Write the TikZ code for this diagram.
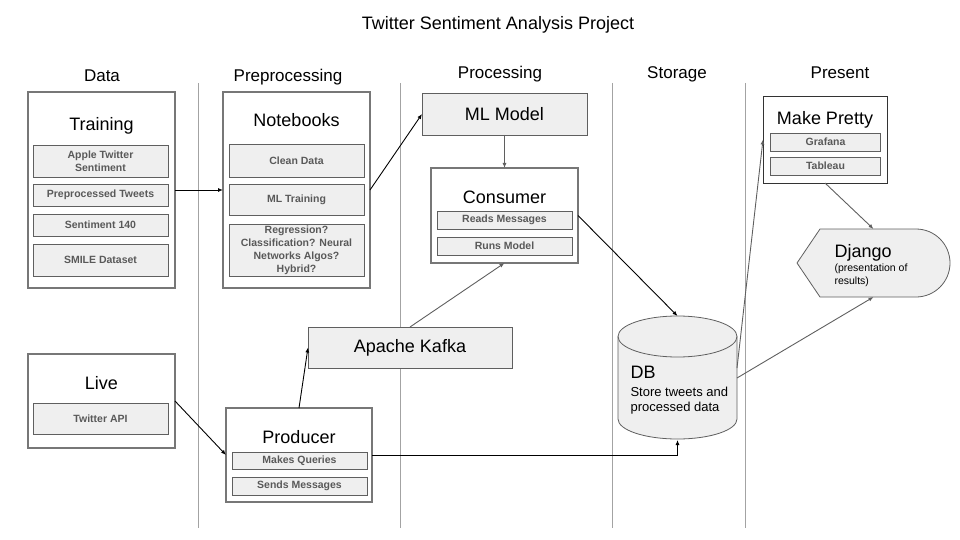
\documentclass[tikz,border=0pt]{standalone}
\usepackage{fontspec}
\setmainfont{Liberation Sans}
\usetikzlibrary{positioning,arrows.meta}

\definecolor{boxgray}{HTML}{EFEFEF}
\definecolor{linegray}{HTML}{5F5F5F}
\definecolor{framegray}{HTML}{777777}
\definecolor{itemtext}{HTML}{595959}
\definecolor{sepgray}{HTML}{A3A3A3}
\newcommand{\fsz}[2]{\fontsize{#1}{#2}\selectfont}

\tikzset{
  outerbox/.style={draw=framegray, line width=2pt, fill=white, minimum width=147pt, inner sep=0pt, outer sep=0pt},
  item/.style={draw=linegray, line width=0.8pt, fill=boxgray, text=itemtext, font=\bfseries\fsz{10.5}{13}, align=center, minimum width=135pt, inner sep=0pt, outer sep=0pt},
  block/.style={draw=linegray, line width=0.8pt, fill=boxgray, font=\fsz{18}{22}, inner sep=0pt, outer sep=0pt},
  heading/.style={font=\fsz{17}{20}, anchor=base},
  boxtitle/.style={font=\fsz{18}{22}, anchor=base},
  flow/.style={-{Latex[length=5pt,width=4pt]}, line width=0.9pt},
  softflow/.style={flow, draw=linegray}
}

\begin{document}
\begin{tikzpicture}[x=1pt, y=-1pt]
    \useasboundingbox (0,0) rectangle (960,540);
    \node[font=\fsz{18}{22}, anchor=base] (title) at (498,30) {Twitter Sentiment Analysis Project};

    \node[heading] (hdata) at (102,82) {Data};
    \node[heading] (hprep) at (288,82) {Preprocessing};
    \node[heading] (hproc) at (500,79) {Processing};
    \node[heading] (hstor) at (677,79) {Storage};
    \node[heading] (hpres) at (840,79) {Present};

    \draw[sepgray, line width=0.8pt] (198,83) -- (198,528);
    \draw[sepgray, line width=0.8pt] (400,83) -- (400,528);
    \draw[sepgray, line width=0.8pt] (612,83) -- (612,528);
    \draw[sepgray, line width=0.8pt] (745,83) -- (745,528);

    \node[outerbox, minimum height=196pt] (training) at (101.5,190) {};
    \node[boxtitle] (trtitle) at (101.5,131) {Training};
    \node[item, minimum height=32pt] (apple) at (100.5,161) {Apple Twitter\\Sentiment};
    \node[item, minimum height=22pt, below=7pt of apple] (prep) {Preprocessed Tweets};
    \node[item, minimum height=22pt, below=8pt of prep] (s140) {Sentiment 140};
    \node[item, minimum height=32pt, below=8pt of s140] (smile) {SMILE Dataset};

    \node[outerbox, minimum height=196pt] (notebooks) at (296.5,190) {};
    \node[boxtitle] (nbtitle) at (296.5,127) {Notebooks};
    \node[item, minimum height=33pt] (clean) at (296.5,160.5) {Clean Data};
    \node[item, minimum height=31pt, below=7pt of clean] (mltrain) {ML Training};
    \node[item, minimum height=52pt, below=9pt of mltrain] (algos) {Regression?\\Classification? Neural\\Networks Algos?\\Hybrid?};

    \node[block, minimum width=165pt, minimum height=42pt] (mlmodel) at (504.5,114) {ML Model};
    \node[outerbox, minimum height=95pt] (consumer) at (504.5,215.5) {};
    \node[boxtitle] (cotitle) at (504.5,203) {Consumer};
    \node[item, minimum height=18pt] (reads) at (504.5,220) {Reads Messages};
    \node[item, minimum height=18pt, below=8pt of reads] (runs) {Runs Model};
    \node[block, minimum width=204pt, minimum height=41pt] (kafka) at (410,347.5) {Apache Kafka};

    \node[outerbox, minimum height=94pt] (live) at (101.5,401) {};
    \node[boxtitle] (lvtitle) at (101.5,389) {Live};
    \node[item, minimum height=31pt] (twapi) at (100.5,418.5) {Twitter API};

    \node[outerbox, minimum width=146pt, minimum height=94pt] (producer) at (299,455) {};
    \node[boxtitle] (prtitle) at (299,443) {Producer};
    \node[item, minimum height=17pt] (queries) at (299.5,460.5) {Makes Queries};
    \node[item, minimum height=18pt, below=8pt of queries] (sends) {Sends Messages};

    \path[draw=linegray, fill=boxgray, line width=0.8pt] (618,336.5) -- (618,419)
        arc[start angle=180, end angle=360, x radius=59.5pt, y radius=20pt] -- (737,336.5)
        arc[start angle=0, end angle=180, x radius=59.5pt, y radius=20.5pt] -- cycle;
    \draw[linegray, line width=0.8pt] (618,336.5) arc[start angle=180, end angle=360, x radius=59.5pt, y radius=20.5pt];
    \node[minimum width=119pt, minimum height=124pt, inner sep=0pt, outer sep=0pt] (db) at (677.5,378) {};
    \node[anchor=base west, font=\fsz{18}{22}] (dbtitle) at (627,378) {DB};
    \node[anchor=base west, font=\fsz{13}{15}] (dbline1) at (627,396) {Store tweets and};
    \node[anchor=base west, font=\fsz{13}{15}] (dbline2) at (627,411) {processed data};

    \node[draw=black!80, line width=0.8pt, fill=white, minimum width=124pt, minimum height=87pt, inner sep=0pt, outer sep=0pt] (pretty) at (825,139.5) {};
    \node[boxtitle] (ptitle) at (825,125) {Make Pretty};
    \node[item, minimum width=110pt, minimum height=18pt] (grafana) at (825.5,142) {Grafana};
    \node[item, minimum width=110pt, minimum height=18pt, below=6pt of grafana] (tableau) {Tableau};

    \path[draw=linegray, fill=boxgray, line width=0.8pt] (797,263) -- (820,229) -- (916,229)
        arc[start angle=90, end angle=-90, radius=34pt] -- (820,297) -- cycle;
    \node[minimum width=153pt, minimum height=68pt, inner sep=0pt, outer sep=0pt] (django) at (873.5,263) {};
    \node[anchor=base west, font=\fsz{18}{22}] (djtitle) at (831,257) {Django};
    \node[anchor=base west, font=\fsz{10.5}{13}] (djline1) at (831,271) {(presentation of};
    \node[anchor=base west, font=\fsz{10.5}{13}] (djline2) at (831,284) {results)};

    \draw[flow] (training) -- (notebooks);
    \draw[flow] (notebooks.east) -- (mlmodel.west);
    \draw[softflow] (mlmodel) -- (consumer);
    \draw[softflow] (kafka.north) -- (consumer.south);
    \draw[flow] (live.east) -- (producer.west);
    \draw[flow] (producer.north) -- (kafka.west);
    \draw[flow] (consumer.east) -- (db.north);
    \draw[flow] (producer.east) -| (db.south);
    \draw[softflow] ([yshift=10pt]db.east) -- (pretty.west);
    \draw[softflow] (db.east) -- (django.south);
    \draw[softflow] (pretty.south) -- (django.north);
\end{tikzpicture}
\end{document}
